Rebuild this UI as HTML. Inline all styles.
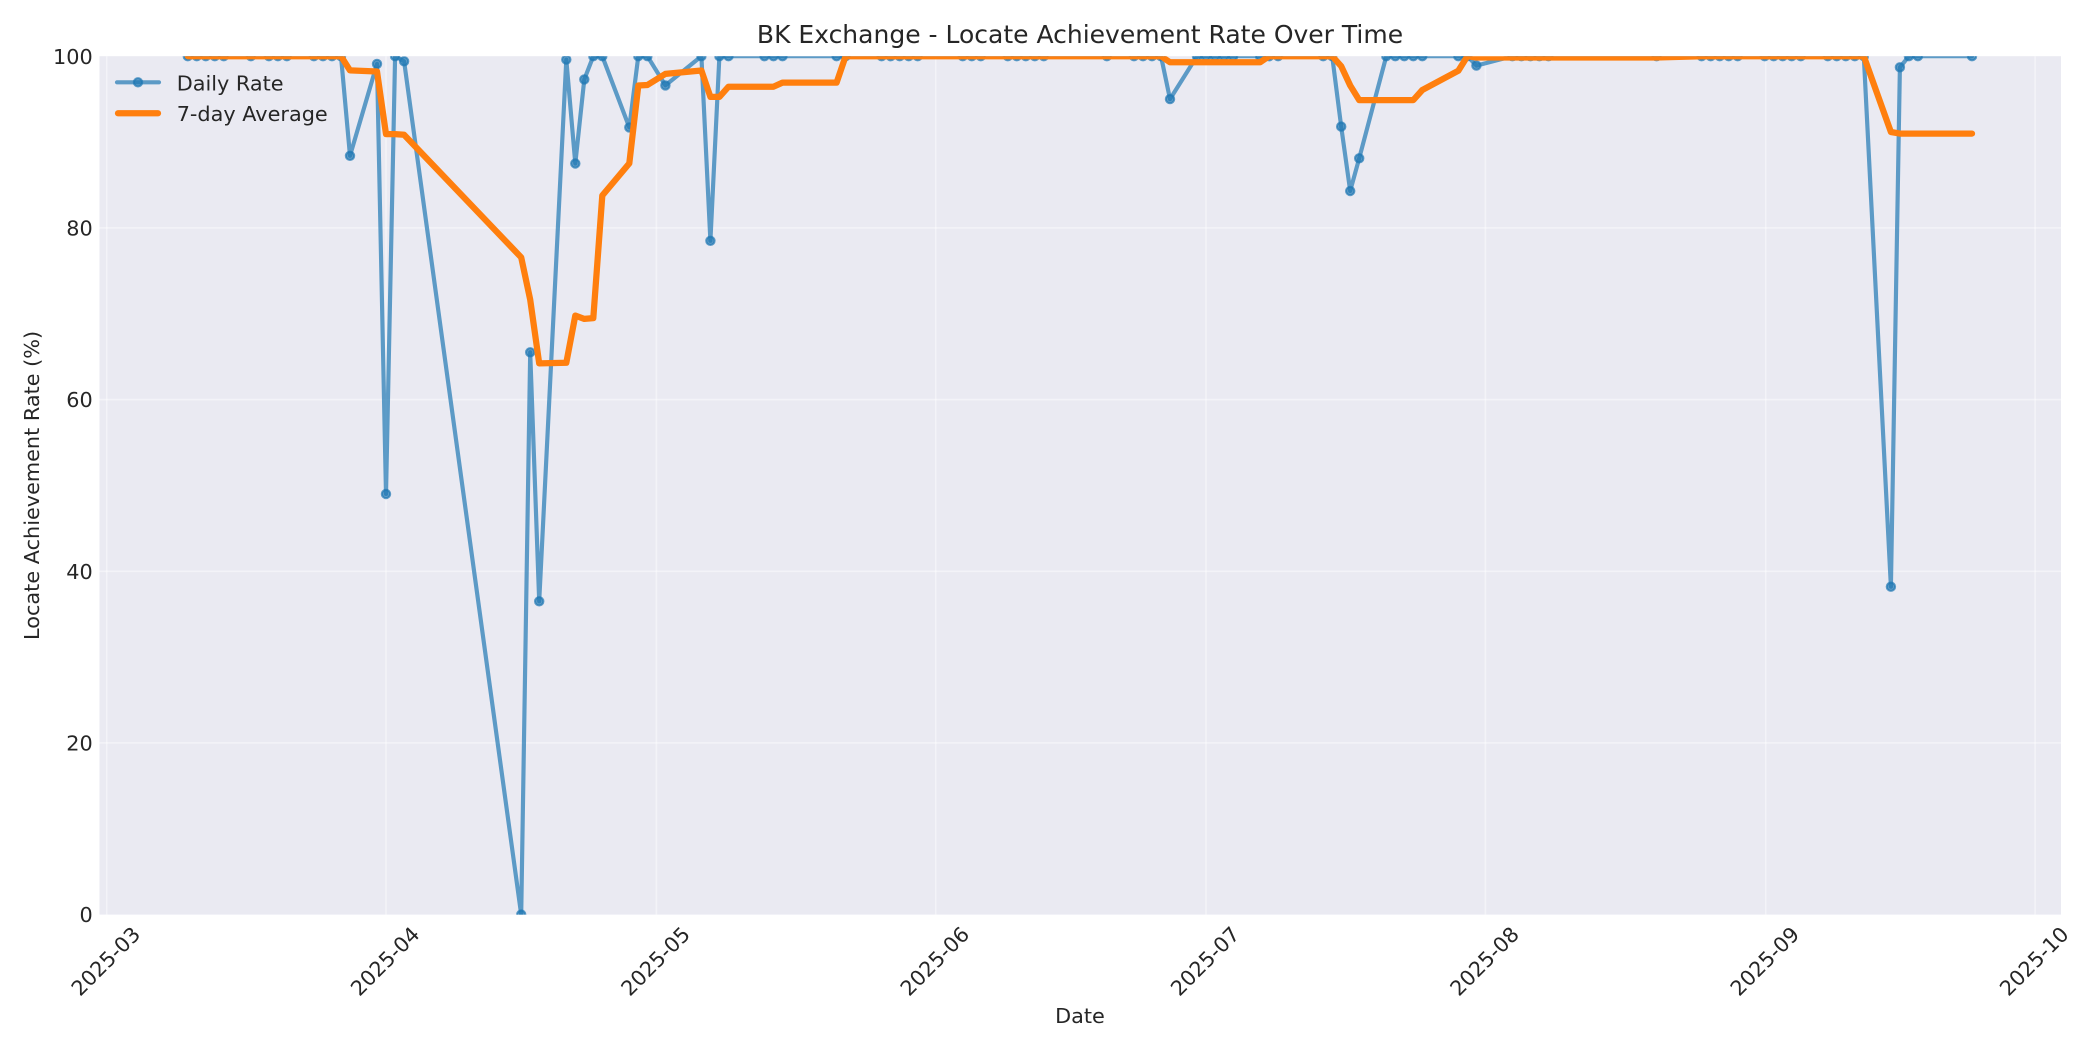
<!DOCTYPE html>
<html>
<head>
<meta charset="utf-8">
<style>
html,body{margin:0;padding:0;background:#fff;}
svg{display:block;}
text{font-family:"DejaVu Sans","Liberation Sans",sans-serif;fill:#262626;}
</style>
</head>
<body>
<svg width="2100" height="1050" viewBox="0 0 2100 1050" xmlns="http://www.w3.org/2000/svg">
<defs>
<clipPath id="ax"><rect x="99.5" y="56.2" width="1961.5" height="858.4"/></clipPath>
</defs>
<rect x="0" y="0" width="2100" height="1050" fill="#ffffff"/>
<rect x="99.5" y="56.2" width="1961.5" height="858.4" fill="#EAEAF2"/>

<!-- grid -->
<g stroke="#ffffff" stroke-opacity="0.45" stroke-width="1.6">
<line x1="106.7" y1="56.2" x2="106.7" y2="914.6"/>
<line x1="386.0" y1="56.2" x2="386.0" y2="914.6"/>
<line x1="656.4" y1="56.2" x2="656.4" y2="914.6"/>
<line x1="935.7" y1="56.2" x2="935.7" y2="914.6"/>
<line x1="1206.0" y1="56.2" x2="1206.0" y2="914.6"/>
<line x1="1485.4" y1="56.2" x2="1485.4" y2="914.6"/>
<line x1="1765.7" y1="56.2" x2="1765.7" y2="914.6"/>
<line x1="2035.1" y1="56.2" x2="2035.1" y2="914.6"/>
<line x1="99.5" y1="742.9" x2="2061" y2="742.9"/>
<line x1="99.5" y1="571.3" x2="2061" y2="571.3"/>
<line x1="99.5" y1="399.6" x2="2061" y2="399.6"/>
<line x1="99.5" y1="227.9" x2="2061" y2="227.9"/>
</g>

<g clip-path="url(#ax)">
<!-- Daily rate line -->
<polyline fill="none" stroke="#1f77b4" stroke-opacity="0.7" stroke-width="4.17" stroke-linejoin="round" stroke-linecap="round"
points="187.8,56.2 196.8,56.2 205.8,56.2 214.8,56.2 223.8,56.2 250.9,56.2 268.9,56.2 277.9,56.2 286.9,56.2 313.9,56.2 323.0,56.2 332.0,56.2 341.0,56.2 350.0,155.8 377.0,63.9 386.0,494.0 395.1,56.2 404.1,61.3 521.2,914.6 530.2,352.3 539.2,601.3 566.3,59.6 575.3,163.5 584.3,79.4 593.3,56.2 602.3,56.2 629.3,127.4 638.3,56.2 647.4,56.2 665.4,85.4 701.4,56.2 710.4,240.8 719.4,56.2 728.5,56.2 764.5,56.2 773.5,56.2 782.5,56.2 836.6,56.2 845.6,56.2 881.6,56.2 890.7,56.2 899.7,56.2 908.7,56.2 917.7,56.2 962.7,56.2 971.8,56.2 980.8,56.2 1007.8,56.2 1016.8,56.2 1025.8,56.2 1034.8,56.2 1043.8,56.2 1106.9,56.2 1134.0,56.2 1143.0,56.2 1152.0,56.2 1161.0,56.2 1170.0,99.1 1197.0,56.2 1206.0,56.2 1215.1,56.2 1224.1,56.2 1233.1,56.2 1260.1,56.2 1269.1,56.2 1278.1,56.2 1323.2,56.2 1332.2,56.2 1341.2,126.6 1350.2,191.0 1359.2,158.3 1386.3,56.2 1395.3,56.2 1404.3,56.2 1413.3,56.2 1422.3,56.2 1458.3,56.2 1467.4,56.2 1476.4,65.6 1512.4,56.2 1521.4,56.2 1530.4,56.2 1539.4,56.2 1548.5,56.2 1656.6,56.2 1701.6,56.2 1710.7,56.2 1719.7,56.2 1728.7,56.2 1737.7,56.2 1764.7,56.2 1773.7,56.2 1782.7,56.2 1791.7,56.2 1800.8,56.2 1827.8,56.2 1836.8,56.2 1845.8,56.2 1854.8,56.2 1863.8,56.2 1890.9,586.7 1899.9,67.3 1908.9,56.2 1917.9,56.2 1972.0,56.2"/>
<!-- markers -->
<g fill="#1f77b4" fill-opacity="0.7" stroke="#1f77b4" stroke-opacity="0.7" stroke-width="2.08">
<circle cx="187.8" cy="56.2" r="4.17"/><circle cx="196.8" cy="56.2" r="4.17"/><circle cx="205.8" cy="56.2" r="4.17"/><circle cx="214.8" cy="56.2" r="4.17"/><circle cx="223.8" cy="56.2" r="4.17"/>
<circle cx="250.9" cy="56.2" r="4.17"/><circle cx="268.9" cy="56.2" r="4.17"/><circle cx="277.9" cy="56.2" r="4.17"/><circle cx="286.9" cy="56.2" r="4.17"/>
<circle cx="313.9" cy="56.2" r="4.17"/><circle cx="323.0" cy="56.2" r="4.17"/><circle cx="332.0" cy="56.2" r="4.17"/><circle cx="341.0" cy="56.2" r="4.17"/>
<circle cx="350.0" cy="155.8" r="4.17"/><circle cx="377.0" cy="63.9" r="4.17"/><circle cx="386.0" cy="494.0" r="4.17"/><circle cx="395.1" cy="56.2" r="4.17"/><circle cx="404.1" cy="61.3" r="4.17"/>
<circle cx="521.2" cy="914.6" r="4.17"/><circle cx="530.2" cy="352.3" r="4.17"/><circle cx="539.2" cy="601.3" r="4.17"/>
<circle cx="566.3" cy="59.6" r="4.17"/><circle cx="575.3" cy="163.5" r="4.17"/><circle cx="584.3" cy="79.4" r="4.17"/><circle cx="593.3" cy="56.2" r="4.17"/><circle cx="602.3" cy="56.2" r="4.17"/>
<circle cx="629.3" cy="127.4" r="4.17"/><circle cx="638.3" cy="56.2" r="4.17"/><circle cx="647.4" cy="56.2" r="4.17"/><circle cx="665.4" cy="85.4" r="4.17"/>
<circle cx="701.4" cy="56.2" r="4.17"/><circle cx="710.4" cy="240.8" r="4.17"/><circle cx="719.4" cy="56.2" r="4.17"/><circle cx="728.5" cy="56.2" r="4.17"/>
<circle cx="764.5" cy="56.2" r="4.17"/><circle cx="773.5" cy="56.2" r="4.17"/><circle cx="782.5" cy="56.2" r="4.17"/>
<circle cx="836.6" cy="56.2" r="4.17"/><circle cx="845.6" cy="56.2" r="4.17"/>
<circle cx="881.6" cy="56.2" r="4.17"/><circle cx="890.7" cy="56.2" r="4.17"/><circle cx="899.7" cy="56.2" r="4.17"/><circle cx="908.7" cy="56.2" r="4.17"/><circle cx="917.7" cy="56.2" r="4.17"/>
<circle cx="962.7" cy="56.2" r="4.17"/><circle cx="971.8" cy="56.2" r="4.17"/><circle cx="980.8" cy="56.2" r="4.17"/>
<circle cx="1007.8" cy="56.2" r="4.17"/><circle cx="1016.8" cy="56.2" r="4.17"/><circle cx="1025.8" cy="56.2" r="4.17"/><circle cx="1034.8" cy="56.2" r="4.17"/><circle cx="1043.8" cy="56.2" r="4.17"/>
<circle cx="1106.9" cy="56.2" r="4.17"/>
<circle cx="1134.0" cy="56.2" r="4.17"/><circle cx="1143.0" cy="56.2" r="4.17"/><circle cx="1152.0" cy="56.2" r="4.17"/><circle cx="1161.0" cy="56.2" r="4.17"/><circle cx="1170.0" cy="99.1" r="4.17"/>
<circle cx="1197.0" cy="56.2" r="4.17"/><circle cx="1206.0" cy="56.2" r="4.17"/><circle cx="1215.1" cy="56.2" r="4.17"/><circle cx="1224.1" cy="56.2" r="4.17"/><circle cx="1233.1" cy="56.2" r="4.17"/>
<circle cx="1260.1" cy="56.2" r="4.17"/><circle cx="1269.1" cy="56.2" r="4.17"/><circle cx="1278.1" cy="56.2" r="4.17"/>
<circle cx="1323.2" cy="56.2" r="4.17"/><circle cx="1332.2" cy="56.2" r="4.17"/><circle cx="1341.2" cy="126.6" r="4.17"/><circle cx="1350.2" cy="191.0" r="4.17"/><circle cx="1359.2" cy="158.3" r="4.17"/>
<circle cx="1386.3" cy="56.2" r="4.17"/><circle cx="1395.3" cy="56.2" r="4.17"/><circle cx="1404.3" cy="56.2" r="4.17"/><circle cx="1413.3" cy="56.2" r="4.17"/><circle cx="1422.3" cy="56.2" r="4.17"/>
<circle cx="1458.3" cy="56.2" r="4.17"/><circle cx="1467.4" cy="56.2" r="4.17"/><circle cx="1476.4" cy="65.6" r="4.17"/>
<circle cx="1512.4" cy="56.2" r="4.17"/><circle cx="1521.4" cy="56.2" r="4.17"/><circle cx="1530.4" cy="56.2" r="4.17"/><circle cx="1539.4" cy="56.2" r="4.17"/><circle cx="1548.5" cy="56.2" r="4.17"/>
<circle cx="1656.6" cy="56.2" r="4.17"/>
<circle cx="1701.6" cy="56.2" r="4.17"/><circle cx="1710.7" cy="56.2" r="4.17"/><circle cx="1719.7" cy="56.2" r="4.17"/><circle cx="1728.7" cy="56.2" r="4.17"/><circle cx="1737.7" cy="56.2" r="4.17"/>
<circle cx="1764.7" cy="56.2" r="4.17"/><circle cx="1773.7" cy="56.2" r="4.17"/><circle cx="1782.7" cy="56.2" r="4.17"/><circle cx="1791.7" cy="56.2" r="4.17"/><circle cx="1800.8" cy="56.2" r="4.17"/>
<circle cx="1827.8" cy="56.2" r="4.17"/><circle cx="1836.8" cy="56.2" r="4.17"/><circle cx="1845.8" cy="56.2" r="4.17"/><circle cx="1854.8" cy="56.2" r="4.17"/><circle cx="1863.8" cy="56.2" r="4.17"/>
<circle cx="1890.9" cy="586.7" r="4.17"/><circle cx="1899.9" cy="67.3" r="4.17"/><circle cx="1908.9" cy="56.2" r="4.17"/><circle cx="1917.9" cy="56.2" r="4.17"/>
<circle cx="1972.0" cy="56.2" r="4.17"/>
</g>
<!-- 7-day average -->
<polyline fill="none" stroke="#ff7f0e" stroke-width="6.25" stroke-linejoin="round" stroke-linecap="round"
points="187.8,56.2 341.0,56.2 350.0,70.4 377.0,71.5 386.0,134.1 395.1,134.1 404.1,134.8 521.2,257.4 530.2,299.7 539.2,363.4 566.3,362.8 575.3,315.6 584.3,318.9 593.3,318.1 602.3,195.5 629.3,163.4 638.3,85.5 647.4,85.0 665.4,73.9 701.4,70.5 710.4,96.9 719.4,96.9 728.5,86.7 773.5,86.7 782.5,82.6 836.6,82.6 845.6,56.2 1161.0,56.2 1170.0,62.3 1260.1,62.3 1269.1,56.2 1332.2,56.2 1341.2,66.2 1350.2,85.5 1359.2,100.1 1413.3,100.1 1422.3,90.0 1458.3,70.8 1467.4,56.2 1476.4,57.5 1656.6,57.5 1701.6,56.2 1863.8,56.2 1890.9,132.0 1899.9,133.6 1972.0,133.6"/>
</g>

<!-- legend -->
<line x1="117" y1="82.3" x2="159" y2="82.3" stroke="#1f77b4" stroke-opacity="0.7" stroke-width="4.17" stroke-linecap="round"/>
<circle cx="138" cy="82.3" r="4.17" fill="#1f77b4" fill-opacity="0.7" stroke="#1f77b4" stroke-opacity="0.7" stroke-width="2.08"/>
<line x1="118" y1="113.3" x2="158" y2="113.3" stroke="#ff7f0e" stroke-width="6.25" stroke-linecap="round"/>
<text x="176.7" y="90.7" font-size="20.8">Daily Rate</text>
<text x="176.7" y="121" font-size="20.8">7-day Average</text>

<!-- title -->
<text x="1080" y="43" font-size="25" text-anchor="middle">BK Exchange - Locate Achievement Rate Over Time</text>

<!-- y tick labels -->
<g font-size="20.8" text-anchor="end">
<text x="92.7" y="922.2">0</text>
<text x="92.7" y="750.5">20</text>
<text x="92.7" y="578.9">40</text>
<text x="92.7" y="407.2">60</text>
<text x="92.7" y="235.5">80</text>
<text x="92.7" y="63.8">100</text>
</g>

<!-- x tick labels -->
<g font-size="20.8" text-anchor="middle">
<text transform="translate(105.5,961) rotate(-45)" x="0" y="7.6">2025-03</text>
<text transform="translate(384.8,961) rotate(-45)" x="0" y="7.6">2025-04</text>
<text transform="translate(655.2,961) rotate(-45)" x="0" y="7.6">2025-05</text>
<text transform="translate(934.5,961) rotate(-45)" x="0" y="7.6">2025-06</text>
<text transform="translate(1204.8,961) rotate(-45)" x="0" y="7.6">2025-07</text>
<text transform="translate(1484.2,961) rotate(-45)" x="0" y="7.6">2025-08</text>
<text transform="translate(1764.5,961) rotate(-45)" x="0" y="7.6">2025-09</text>
<text transform="translate(2033.9,961) rotate(-45)" x="0" y="7.6">2025-10</text>
</g>

<!-- axis labels -->
<text x="1080" y="1023" font-size="20.8" text-anchor="middle">Date</text>
<text transform="translate(39,485.4) rotate(-90)" x="0" y="0" font-size="20.8" text-anchor="middle">Locate Achievement Rate (%)</text>
</svg>
</body>
</html>
